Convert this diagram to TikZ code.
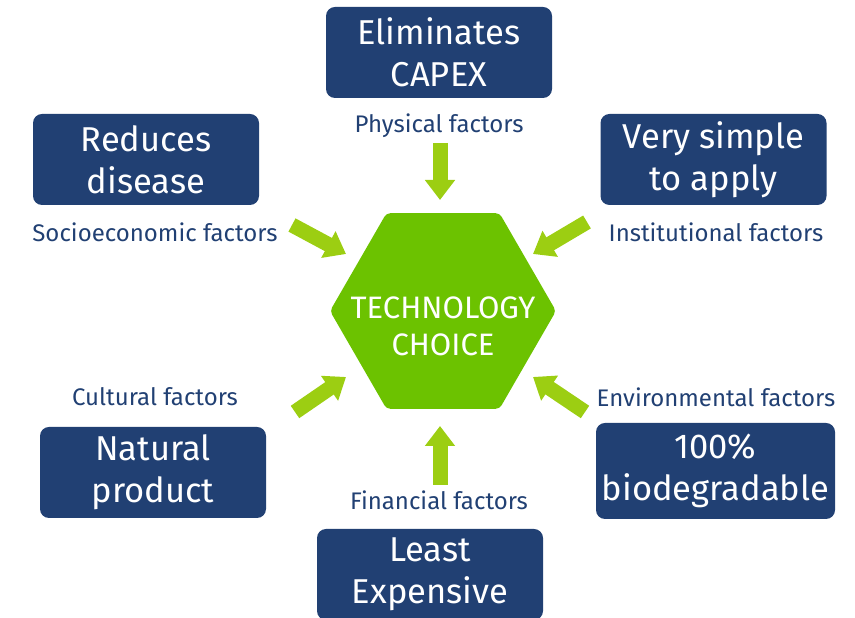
\documentclass[tikz,border=0pt]{standalone}
\usepackage{fontspec}
\setmainfont{Fira Sans}
\usetikzlibrary{
  shapes.geometric,
  arrows.meta,
}
\definecolor{navy}{RGB}{33,64,115}
\definecolor{hexgreen}{RGB}{108,194,0}
\definecolor{arrowgreen}{RGB}{156,206,18}
\tikzset{
  benefit/.style={
    rectangle,
    rounded corners=9pt,
    minimum width=226pt,
    minimum height=91pt,
    inner sep=0pt,
    align=center,
    text=white,
    font=\fontsize{34.5}{42}\selectfont,
    fill=navy
  },
  factor/.style={
    inner sep=0pt,
    text=navy,
    font=\fontsize{24}{28}\selectfont
  },
  hexa/.style={
    regular polygon,
    regular polygon sides=6,
    minimum size=226pt,
    inner sep=0pt,
    rounded corners=4pt,
    fill=hexgreen
  },
  push/.style={
    draw=arrowgreen,
    line width=15pt,
    -{Triangle[width=29pt, length=20pt]}
  },
}

\begin{document}
\begin{tikzpicture}[x=1pt, y=1pt]
  \useasboundingbox (0,0) rectangle (855,618);

  % Centre
  \node (tech) [hexa] at (443,307) {};
  \node (techtext) [align=center, text=white, font=\fontsize{31}{37}\selectfont, yshift=-15pt]
    at (tech) {TECHNOLOGY\\CHOICE};

  % Benefits
  \node (capex) [benefit] at (439,565.5) {Eliminates\\CAPEX};
  \node (disease) [benefit] at (146,458.5) {Reduces\\disease};
  \node (apply) [benefit] at (713.5,458.5) {Very simple\\to apply};
  \node (natural) [benefit] at (153,145.5) {Natural\\product};
  \node (biodeg) [benefit, minimum width=239pt, minimum height=96pt] at (715.5,147) {100\%\\biodegradable};
  \node (expense) [benefit] at (430,43.5) {Least\\Expensive};

  % Factors
  \node (physical) [factor] at (439,492) {Physical factors};
  \node (socio) [factor] at (155,386) {Socioeconomic factors};
  \node (instit) [factor] at (716,386) {Institutional factors};
  \node (cultural) [factor] at (155,221) {Cultural factors};
  \node (environ) [factor] at (716,221) {Environmental factors};
  \node (financial) [factor] at (439,118) {Financial factors};

  % Arrows
  \coordinate (physical_tail) at (440,475);
  \coordinate (physical_head) at (440,418);
  \coordinate (socio_tail) at (292,393);
  \coordinate (socio_head) at (346,364);
  \coordinate (instit_tail) at (587,396);
  \coordinate (instit_head) at (533,364);
  \coordinate (cultural_tail) at (295,206);
  \coordinate (cultural_head) at (346,241);
  \coordinate (environ_tail) at (585,206);
  \coordinate (environ_head) at (533,241);
  \coordinate (financial_tail) at (440,133);
  \coordinate (financial_head) at (440,192);

  \draw [push] (physical_tail) -- (physical_head);
  \draw [push] (socio_tail) -- (socio_head);
  \draw [push] (instit_tail) -- (instit_head);
  \draw [push] (cultural_tail) -- (cultural_head);
  \draw [push] (environ_tail) -- (environ_head);
  \draw [push] (financial_tail) -- (financial_head);

\end{tikzpicture}
\end{document}
